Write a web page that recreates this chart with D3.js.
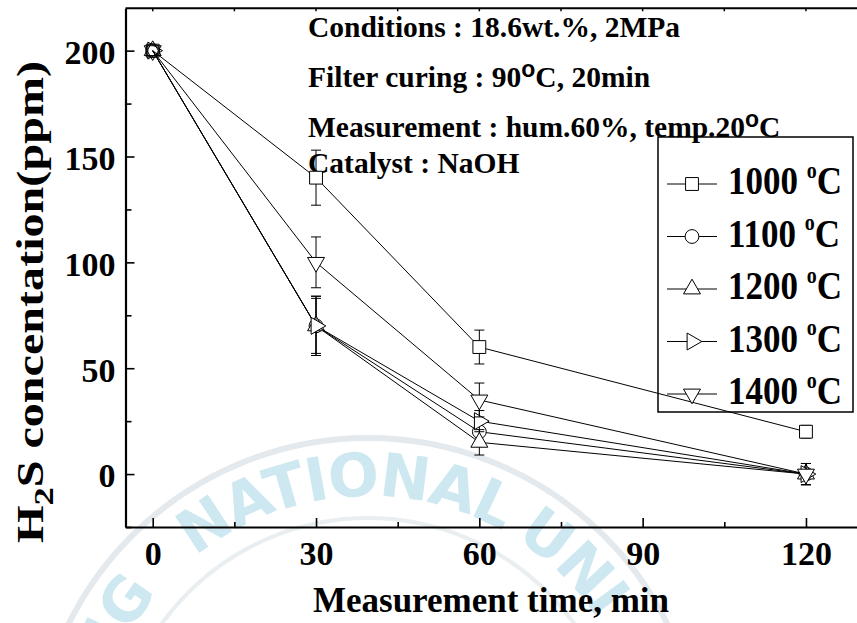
<!DOCTYPE html>
<html>
<head>
<meta charset="utf-8">
<script src="https://cdn.jsdelivr.net/npm/d3@7"></script>
<style>
  body { margin: 0; background: #fff; }
  svg text { font-family: "Liberation Serif", "Times New Roman", serif; font-weight: bold; }
</style>
</head>
<body>
<svg id="chart" width="857" height="623"></svg>
<script>
// measurement times (min)
const times = [0, 30, 60, 120];
const temps = ['1000', '1100', '1200', '1300', '1400'];

// H2S concentration (ppm) per calcination temperature
const h2s1000 = [200, 140, 60, 20];
const h2s1100 = [200, 70, 20, 0];
const h2s1200 = [200, 70, 15, 0];
const h2s1300 = [200, 70, 25, 0];
const h2s1400 = [200, 100, 35, 0];

// error bars (+/- ppm)
const err1000 = [0, 13, 8, 3];
const err1100 = [0, 14, 5, 5];
const err1200 = [0, 14, 6, 5];
const err1300 = [0, 13, 5, 5];
const err1400 = [0, 12, 8, 5];

const xMajor = [0, 30, 60, 90, 120];
const xMinor = [15, 45, 75, 105];
const yMajor = [0, 50, 100, 150, 200];
const yMinor = [-25, 25, 75, 125, 175];

const notes = [
  ['Conditions : 18.6wt.%, 2MPa'],
  ['Filter curing : 90', 'o', 'C, 20min'],
  ['Measurement : hum.60%, temp.20', 'o', 'C'],
  ['Catalyst : NaOH']
];

const series = temps.map((t, i) => ({
  name: t,
  values: [h2s1000, h2s1100, h2s1200, h2s1300, h2s1400][i],
  errs: [err1000, err1100, err1200, err1300, err1400][i]
}));

const svg = d3.select('#chart');

const x = d3.scaleLinear().domain([-5, 130]).range([125.5, 860.4]);
const y = d3.scaleLinear().domain([-25, 220]).range([527, 8.3]);

// faint university watermark in the background
const wm = svg.append('g').attr('class', 'watermark');
const cx = 368, cy = 772, rb = 276;
const circ = (r) => `M${cx},${cy + r} A${r},${r} 0 1 1 ${cx},${cy - r} A${r},${r} 0 1 1 ${cx},${cy + r}`;
wm.append('path').attr('id', 'wmPath').attr('d', circ(rb)).attr('fill', 'none');
wm.append('path').attr('d', circ(334)).attr('fill', 'none').attr('stroke', '#e4e9ed').attr('stroke-width', 6);
wm.append('path').attr('d', circ(254)).attr('fill', 'none').attr('stroke', '#e9eef1').attr('stroke-width', 4);
const wmParts = [['NG', -50, 'end'], ['NATIONAL', -5, 'middle'], ['UNI', 32, 'start']];
wmParts.forEach(([txt, ang, anchor]) => {
  wm.append('text')
    .style('font-family', '"DejaVu Sans", sans-serif')
    .attr('font-size', 60)
    .attr('letter-spacing', -2)
    .attr('fill', '#cde8f0')
    .append('textPath')
    .attr('href', '#wmPath')
    .attr('text-anchor', anchor)
    .attr('startOffset', rb * (Math.PI + ang * Math.PI / 180))
    .text(txt);
});

// frame and axes
const frame = svg.append('g');
frame.append('line')
  .attr('x1', x(-5)).attr('x2', x(130)).attr('y1', y(220)).attr('y2', y(220))
  .attr('stroke', '#000').attr('stroke-width', 2);
frame.selectAll('.topTick').data(xMajor.concat(xMinor)).join('line')
  .attr('x1', d => x(d)).attr('x2', d => x(d))
  .attr('y1', y(220)).attr('y2', y(220) + 3)
  .attr('stroke', '#000').attr('stroke-width', 1.5);

const xAxis = svg.append('g')
  .attr('transform', `translate(0,${y(-25)})`)
  .call(d3.axisBottom(x).tickValues(xMajor).tickSizeInner(-9).tickSizeOuter(0).tickPadding(14));
svg.append('g')
  .attr('transform', `translate(0,${y(-25)})`)
  .call(d3.axisBottom(x).tickValues(xMinor).tickSizeInner(-5).tickSizeOuter(0).tickFormat(''))
  .call(g => g.select('.domain').remove());

const yAxis = svg.append('g')
  .attr('transform', `translate(${x(-5)},0)`)
  .call(d3.axisLeft(y).tickValues(yMajor).tickSizeInner(-9).tickSizeOuter(0).tickPadding(10));
svg.append('g')
  .attr('transform', `translate(${x(-5)},0)`)
  .call(d3.axisLeft(y).tickValues(yMinor).tickSizeInner(-6).tickSizeOuter(0).tickFormat(''))
  .call(g => g.select('.domain').remove());

svg.selectAll('.domain').attr('stroke-width', 2.2);
svg.selectAll('.tick line').attr('stroke-width', 1.6);
xAxis.selectAll('text').attr('font-size', 34).attr('font-family', null);
yAxis.selectAll('text').attr('font-size', 34).attr('font-family', null).attr('dy', '0.38em');

// axis titles
svg.append('text')
  .attr('x', 491).attr('y', 612)
  .attr('text-anchor', 'middle')
  .attr('font-size', 35)
  .text('Measurement time, min');

const yTitle = svg.append('text')
  .attr('transform', 'translate(43,302) rotate(-90)')
  .attr('text-anchor', 'middle')
  .attr('font-size', 37)
  .attr('textLength', 482)
  .attr('lengthAdjust', 'spacingAndGlyphs');
yTitle.append('tspan').text('H');
yTitle.append('tspan').attr('font-size', 28).attr('dy', 10).text('2');
yTitle.append('tspan').attr('dy', -10).text('S concentation(ppm)');

// annotations
const noteBaselines = [37, 87, 137, 173];
notes.forEach((parts, i) => {
  const t = svg.append('text').attr('x', 308).attr('y', noteBaselines[i]).attr('font-size', 29.5);
  parts.forEach((p, j) => {
    if (j === 1) {
      t.append('tspan').attr('font-size', 23).attr('dy', -10)
        .style('font-family', '"Liberation Sans", Arial, sans-serif').text(p);
    } else if (j === 2) {
      t.append('tspan').attr('dy', 10).text(p);
    } else {
      t.append('tspan').text(p);
    }
  });
});

// markers
const symbolTypes = [d3.symbolSquare, d3.symbolCircle, d3.symbolTriangle, d3.symbolTriangle, d3.symbolTriangle];
const symbolSizes = [165, 150, 125, 125, 125];
const symbolRot = [0, 0, 0, 90, 180];
const symbolPath = i => d3.symbol().type(symbolTypes[i]).size(symbolSizes[i])();

const line = d3.line().x((d, i) => x(times[i])).y(d => y(d));

const plot = svg.append('g');
series.forEach((s, si) => {
  const g = plot.append('g');
  g.append('path')
    .attr('d', line(s.values))
    .attr('fill', 'none')
    .attr('stroke', '#000')
    .attr('stroke-width', 1);

  const pts = s.values.map((v, i) => ({ t: times[i], v, e: s.errs[i] })).filter(d => d.e > 0);
  const eb = g.append('g').attr('stroke', '#000').attr('stroke-width', 1);
  eb.selectAll('.bar').data(pts).join('line')
    .attr('x1', d => x(d.t)).attr('x2', d => x(d.t))
    .attr('y1', d => y(d.v + d.e)).attr('y2', d => y(d.v - d.e));
  eb.selectAll('.capTop').data(pts).join('line')
    .attr('x1', d => x(d.t) - 5).attr('x2', d => x(d.t) + 5)
    .attr('y1', d => y(d.v + d.e)).attr('y2', d => y(d.v + d.e));
  eb.selectAll('.capBot').data(pts).join('line')
    .attr('x1', d => x(d.t) - 5).attr('x2', d => x(d.t) + 5)
    .attr('y1', d => y(d.v - d.e)).attr('y2', d => y(d.v - d.e));

  g.append('g').selectAll('path').data(s.values).join('path')
    .attr('d', symbolPath(si))
    .attr('transform', (d, i) => `translate(${x(times[i])},${y(d)}) rotate(${symbolRot[si]})`)
    .attr('fill', (d, i) => i === 0 ? 'none' : '#fff')
    .attr('stroke', '#000')
    .attr('stroke-width', 1);
});

// legend
const legend = svg.append('g').attr('transform', 'translate(658,137)');
legend.append('rect')
  .attr('width', 195).attr('height', 275)
  .attr('fill', 'none').attr('stroke', '#000').attr('stroke-width', 1.5);
const entries = legend.selectAll('.entry').data(series).join('g')
  .attr('transform', (d, i) => `translate(0,${47 + i * 52.5})`);
entries.append('line')
  .attr('x1', 9).attr('x2', 59).attr('y1', 0).attr('y2', 0)
  .attr('stroke', '#000').attr('stroke-width', 1);
entries.append('path')
  .attr('d', (d, i) => symbolPath(i))
  .attr('transform', (d, i) => `translate(34,0) rotate(${symbolRot[i]})`)
  .attr('fill', '#fff').attr('stroke', '#000').attr('stroke-width', 1);
const lt = entries.append('text')
  .attr('transform', 'translate(70,10) scale(1,1.17)')
  .attr('font-size', 35);
lt.append('tspan').text(d => d.name + ' ');
lt.append('tspan').attr('font-size', 20).attr('dy', -14).text('o');
lt.append('tspan').attr('dy', 14).text('C');
</script>
</body>
</html>
